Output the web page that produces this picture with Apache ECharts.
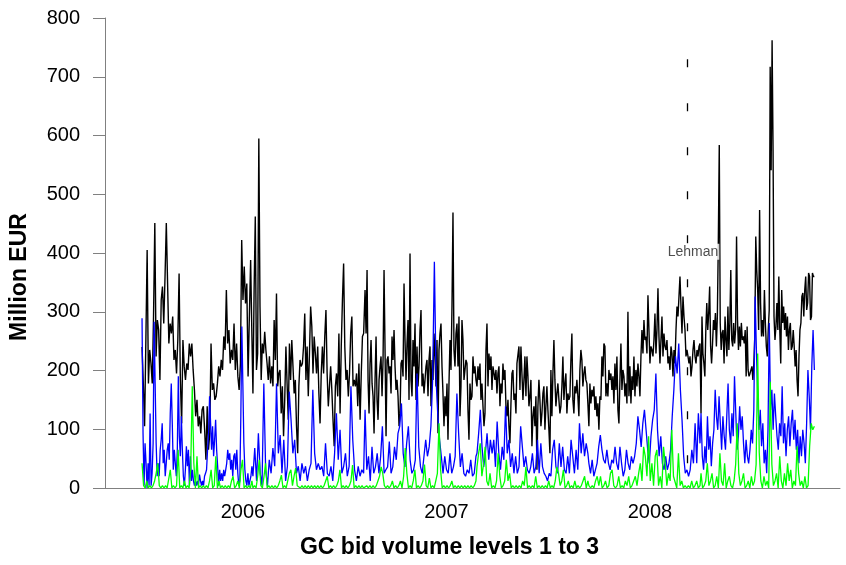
<!DOCTYPE html>
<html>
<head>
<meta charset="utf-8">
<script src="https://cdn.jsdelivr.net/npm/echarts@6/dist/echarts.min.js"></script>
<style>html,body{margin:0;padding:0;background:#fff}#c{width:846px;height:565px}</style>
</head>
<body>
<div id="c"></div>
<script>
// Time covered by each block of readings (decimal years)
const segmentYears = [[2006.004,2006.544],[2006.549,2007.093],[2007.100,2007.645],[2007.650,2008.195],[2008.200,2008.746],[2008.751,2009.308]];
const yearLabels = [2006, 2007, 2008];
const lehmanDate = 2008.682;
const lehmanTop = 730;
const lehmanLabelValue = 402;

// Level 1 (black)
const blackA = [240,178,105,252,405,178,235,212,178,292,451,224,286,269,184,320,343,280,360,451,348,246,280,263,292,218,235,195,252,365,184,110,252,207,184,212,201,246,224,246,201,167,122,150,105,122,93,133,139,99,48,139,65,93,246,167,178,150,156,178,207,190,218,201,258,235,337,246,269,212,235,218,280,201,246,190,167,212,422,320,377,314,348,190,292,388,258];
const blackB = [161,337,462,201,229,595,309,184,246,229,266,235,212,184,224,178,207,173,286,218,331,173,195,201,127,173,88,150,241,178,116,246,184,252,207,161,184,105,59,173,218,207,212,241,297,184,241,156,229,309,275,195,258,229,195,241,161,110,195,241,195,258,303,195,139,173,207,167,116,71,173,195,156,263,127,241,320,382,241,184,201,156,195,263,292,173,184,173,195,139,212,116,195,258,263];
const blackC = [337,263,371,184,127,212,252,178,156,93,184,258,150,116,184,207,224,156,218,371,235,88,218,224,195,207,161,258,218,269,207,167,184,156,105,127,212,218,190,348,252,184,246,286,150,399,184,156,252,207,280,150,241,173,207,269,303,173,195,161,184,207,218,156,218,241,139,218,184,263,224,173,252,93,235,263,280,207,161,105,156,122,178,82,178,252,201,309,469,235,207,263,280,207,292,122,173,286,252,184,201,218,212,133,82,178,150,156,224,195,207,184];
const blackD = [173,207,184,212,150,178,139,105,127,235,280,173,229,201,224,167,207,195,184,201,161,195,207,139,178,161,212,184,201,139,122,150,105,76,144,195,201,150,161,127,212,212,241,167,241,195,150,184,224,156,224,190,139,156,184,71,122,139,105,156,31,139,184,150,105,127,161,173,99,139,173,133,99,59,201,122,195,252,184,139,161,178,150,127,139,173,224,150,178,195,127,161,150,156,218,263,150,127,173,161,184,156,122,201,235,218,173,195,207,184,178,144];
const blackE = [105,178,144,167,156,173,133,156,122,144,99,156,150,224,190,246,241,156,178,156,201,184,195,167,190,144,212,167,224,133,110,184,246,167,201,190,156,178,144,300,156,207,144,190,167,224,156,201,173,212,190,156,224,269,229,286,252,258,229,328,269,212,241,235,224,252,297,229,269,340,258,212,252,292,224,263,241,235,252,212,224,201,241,229,190,235,212,269,309,292,326,360,309,263,326,292,269,224,235,224,212,224,190,207,235,252,224,212,235,224,241,246];
const blackF = [127,292,229,212,190,269,315,269,298,343,241,212,246,286,269,298,241,292,417,584,281,235,264,269,212,292,252,224,309,235,281,371,252,241,281,246,269,428,286,235,275,241,281,252,258,246,269,190,275,201,190,195,201,207,184,212,258,428,371,337,269,473,315,258,286,258,337,281,241,224,269,303,717,541,762,575,292,252,275,315,269,360,269,212,337,281,309,269,298,258,292,235,269,281,235,241,269,241,207,235,184,156,224,269,281,326,332,292,337,360,303,315,366,360,286,292,366,360,360];

// Level 2 (blue)
const blueA = [289,93,4,76,42,0,42,4,127,4,25,76,283,178,76,20,42,20,65,82,110,42,65,20,42,65,76,48,127,178,110,31,65,42,20,65,190,88,54,122,65,20,4,31,71,37,65,4,54,12,31,12,4,12,4,12,4,23,12,4,12,4,20,25,31,65,93,156,110,65,105,54,82,116,65,37,4,31,12,25,12,31,20,31,42,65,48,59,31,48,20,54,59,31,65,25,4,12,122,275,178,76,31,12,4,25,4,12,20,37];
const blueB = [20,68,12,93,25,4,178,31,4,48,25,68,37,178,59,90,25,82,12,37,164,116,59,82,25,37,12,42,25,37,12,31,42,167,59,31,42,31,37,20,76,25,20,37,12,59,127,48,99,25,37,59,20,37,173,82,31,12,37,20,31,25];
const blueC = [133,31,54,12,70,25,36,59,25,54,105,25,31,36,79,25,36,70,48,93,105,144,59,36,76,105,48,25,31,48,195,70,36,25,54,82,54,70,105,184,385,184,122,82,54,25,54,31,25,59,25,36,54,161,93,36,59,25,20,31,25,48,20,25,54];
const blueD = [59,93,133,70,36,59,93,48,82,59,82,36,113,59,31,70,48,139,59,82,36,59,25,54,25,36,105,70,36,54,31,25,36,59,25,36,82,25,76,36,25,20,12,25,20,65,82,36,25,76,36,70,31,25,54,25,82,54,25,65,31,110,59,93,54,76,59];
const blueE = [42,25,48,20,31,42,70,90,65,48,42,65,42,31,48,42,70,42,31,70,42,20,31,65,42,31,54,42,54,76,122,99,70,110,133,99,65,42,88,116,133,195,99,54,88,42,31,54,31,42,65,122,167,224,195,246,167,116,54,25,31,20,31,65,42,110,42,127,76];
const blueF = [127,54,31,71,42,122,65,88,37,76,99,167,122,99,156,110,65,122,88,65,122,178,99,76,127,88,190,127,65,88,139,99,122,76,42,82,54,42,65,99,76,133,326,235,156,99,133,71,110,42,65,25,99,281,133,167,99,161,122,88,65,110,88,173,76,110,54,99,122,71,110,133,82,116,65,99,42,88,54,99,76,42,110,201,156,99,207,269,201];

// Level 3 (green)
const greenA = [42,4,0,12,0,4,0,4,12,25,42,4,0,4,0,4,0,2,31,0,4,0,4,65,0,4,0,12,0,4,0,31,173,42,0,54,0,4,0,4,0,4,0,12,31,0,4,54,0,12,0,4,0,4,0,4,0,12,20,0,4,12,0,31,48,0,4,0,4,0,12];
const greenB = [0,4,0,20,48,4,0,20,42,0,4,0,4,0,4,0,4,12,22,0,4,0,12,25,31,4,20,34,4,4,0,4,0,4,0,4,0,4,0,4,0,4,0,4,0,4,12,20,0,4,0,4,0,4,12,31,0,4,0,4,0,4,12,39,0,4,0,4,0,4,0];
const greenC = [0,4,0,4,0,4,0,4,12,20,36,25,4,0,4,0,4,12,0,4,0,4,12,0,20,68,25,0,4,0,12,31,0,4,0,4,12,40,4,0,17,0,4,0,12,25,110,31,0,4,0,4,0,4,12,0,4,0,4,0,4,0,4,0,4,0,4,0,4,12];
const greenD = [36,59,76,20,40,70,12,4,25,0,4,0,12,59,20,0,4,12,48,12,25,0,4,0,4,0,4,0,12,4,36,0,4,0,4,0,20,0,4,0,4,0,4,0,12,0,4,0,12,36,25,4,12,31,0,4,12,0,4,0,12,0,4,0,4,12,20,0,12];
const greenE = [4,0,4,0,12,20,4,20,0,4,12,0,4,25,31,4,0,4,20,0,4,0,12,4,20,0,4,12,20,4,25,42,12,70,54,20,88,12,42,4,54,65,4,20,0,70,42,4,25,12,99,20,20,0,59,4,12,0,4,0,4,0,12,0,4,12,0,4];
const greenF = [25,0,4,12,42,4,12,25,0,4,20,0,59,12,4,42,0,12,20,4,0,12,40,110,25,4,12,25,0,4,12,0,20,4,12,40,229,60,12,0,20,4,12,0,181,40,4,12,25,0,54,12,0,25,4,42,12,31,0,12,4,71,25,4,12,0,20,0,4,71,110,99,105];

function build(blocks) {
  const out = [];
  blocks.forEach((vals, k) => {
    const s = segmentYears[k][0], e = segmentYears[k][1], n = vals.length;
    vals.forEach((v, i) => out.push([s + (e - s) * i / (n - 1), v]));
  });
  return out;
}

const chart = echarts.init(document.getElementById('c'), null, {renderer: 'canvas'});
const font = 'Liberation Sans, Arial, sans-serif';
chart.setOption({
  animation: false,
  backgroundColor: '#fff',
  grid: {left: 105, right: 6, top: 18, bottom: 77, outerBoundsMode: 'none'},
  xAxis: {
    type: 'value', min: 2005.822, max: 2009.434,
    axisLine: {lineStyle: {color: '#808080', width: 1}},
    axisTick: {show: false},
    splitLine: {show: false},
    axisLabel: {customValues: yearLabels.map(y => y + 0.5), formatter: v => String(Math.floor(v)), color: '#000', fontSize: 20, fontFamily: font, margin: 14},
    name: 'GC bid volume levels 1 to 3', nameLocation: 'middle', nameGap: 48,
    nameTextStyle: {fontWeight: 'bold', fontSize: 23, color: '#000', fontFamily: font, padding: [0, 46, 0, 0]}
  },
  yAxis: {
    type: 'value', min: 0, max: 800, interval: 100,
    axisLine: {show: true, lineStyle: {color: '#808080', width: 1}},
    axisTick: {show: true, length: 12, lineStyle: {color: '#808080'}},
    splitLine: {show: false},
    axisLabel: {color: '#000', fontSize: 20, fontFamily: font, margin: 25},
    name: 'Million EUR', nameLocation: 'middle', nameGap: 74,
    nameTextStyle: {fontWeight: 'bold', fontSize: 23, color: '#000', fontFamily: font, padding: [0, 48, 0, 0]}
  },
  series: [
    {type: 'line', data: build([blackA, blackB, blackC, blackD, blackE, blackF]), showSymbol: false, lineStyle: {color: '#000', width: 1.4}, z: 1,
     markLine: {silent: true, symbol: 'none', label: {show: false}, lineStyle: {color: '#000', width: 1.3, type: [8, 36]},
       data: [[{coord: [lehmanDate, lehmanTop]}, {coord: [lehmanDate, 0]}]]}},
    {type: 'line', data: build([blueA, blueB, blueC, blueD, blueE, blueF]), showSymbol: false, lineStyle: {color: '#0000ff', width: 1.3}, z: 2},
    {type: 'line', data: build([greenA, greenB, greenC, greenD, greenE, greenF]), showSymbol: false, lineStyle: {color: '#00ff00', width: 1.3}, z: 3},
    {type: 'scatter', data: [[lehmanDate, lehmanLabelValue]], symbolSize: 2, itemStyle: {color: 'rgba(0,0,0,0)'}, z: 5, silent: true,
     label: {show: true, formatter: 'Lehman', position: 'inside', offset: [6, 0], color: '#222', fontSize: 14, fontFamily: font, backgroundColor: '#fff', padding: [1, 1]}}
  ]
});
</script>
</body>
</html>
